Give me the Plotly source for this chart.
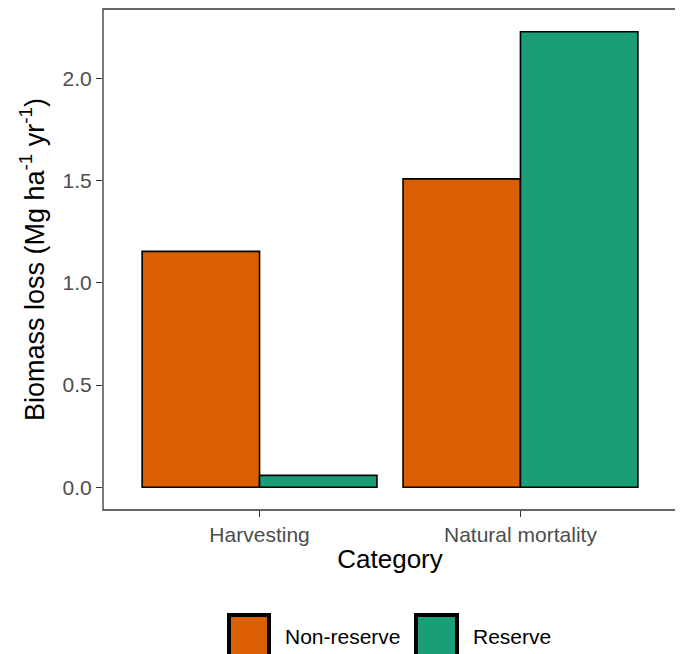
import plotly.graph_objects as go

categories = ["Harvesting", "Natural mortality"]
non_reserve = [1.155, 1.51]
reserve = [0.058, 2.23]
series_names = ["Non-reserve", "Reserve"]
colors = ["#D95F02", "#1B9E77"]
y_ticks = [0.0, 0.5, 1.0, 1.5, 2.0]
y_tick_labels = ["0.0", "0.5", "1.0", "1.5", "2.0"]

OFF = 8  # page body margin
W, H = 683 - OFF, 654 - OFF
L, R, T, B = 103 - OFF, 6, 1, 144
pw, ph = W - L - R, H - T - B

def px(x):
    return (x - OFF - L) / pw

def py(y):
    return (H - B - (y - OFF)) / ph

fig = go.Figure()
for name, vals, col in zip(series_names, [non_reserve, reserve], colors):
    fig.add_trace(go.Bar(
        x=categories, y=vals, name=name,
        marker=dict(color=col, line=dict(color="black", width=1.6)),
        showlegend=False,
    ))

ymax = max(max(non_reserve), max(reserve))
fig.update_layout(
    width=W, height=H,
    margin=dict(l=L, r=R, t=T, b=B, autoexpand=False),
    plot_bgcolor="white", paper_bgcolor="white",
    barmode="group", bargap=0.1, bargroupgap=0,
    font=dict(family="Liberation Sans, Arial, sans-serif"),
    xaxis=dict(
        range=[-0.6, 1.6], showgrid=False, zeroline=False,
        showline=False,
        ticks="outside", ticklen=6, tickcolor="#333333", tickwidth=1.2,
        tickfont=dict(size=21, color="#4D4D4D"),
        title=dict(text="Category", font=dict(size=26, color="black"), standoff=4),
    ),
    yaxis=dict(
        range=[-0.05 * ymax, 1.05 * ymax], showgrid=False, zeroline=False,
        showline=False,
        ticks="outside", ticklen=6, tickcolor="#333333", tickwidth=1.2,
        tickvals=y_ticks, ticktext=y_tick_labels,
        tickfont=dict(size=21, color="#4D4D4D"),
        title=dict(text="Biomass loss (Mg ha<sup>-1</sup> yr<sup>-1</sup>)",
                   font=dict(size=27, color="black"), standoff=10),
    ),
)

# panel border
fig.add_shape(type="rect", xref="paper", yref="paper", x0=0, x1=1, y0=0, y1=1,
              line=dict(color="#333333", width=1.3), layer="above")

# custom legend (ggplot style)
keys = [(229, 269, 283), (416, 457, 471)]
for (x0, x1, tx), name, col in zip(keys, series_names, colors):
    fig.add_shape(type="rect", xref="paper", yref="paper",
                  x0=px(x0), x1=px(x1), y0=py(615), y1=py(658),
                  fillcolor=col, line=dict(color="black", width=4))
    fig.add_annotation(text=name, xref="paper", yref="paper",
                       x=px(tx), y=py(636), xanchor="left", yanchor="middle",
                       showarrow=False, font=dict(size=21, color="black"))

fig.write_html("out.html")
